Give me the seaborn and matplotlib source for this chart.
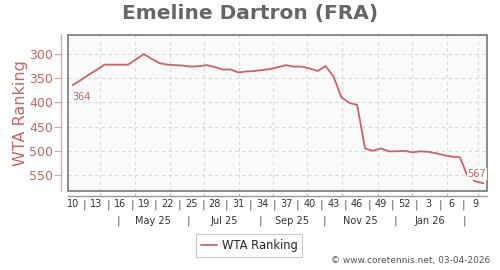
import matplotlib
matplotlib.use("Agg")
import matplotlib.pyplot as plt
import matplotlib.transforms as mtransforms
from matplotlib.patches import Rectangle
import seaborn as sns
import pandas as pd

title = "Emeline Dartron (FRA)"
series_name = "WTA Ranking"
ranks = [364, 354, 343, 333, 322, 322, 322, 322, 311, 300,
         310, 319, 322, 323, 324, 326, 325, 323, 327, 332,
         332, 338, 336, 335, 333, 331, 327, 323, 326, 326,
         330, 335, 325, 346, 389, 401, 405, 495, 500, 495,
         501, 501, 500, 503, 501, 502, 505, 509, 512, 513,
         553, 563, 567]
week_labels = ["10", "13", "16", "19", "22", "25", "28", "31", "34", "37",
               "40", "43", "46", "49", "52", "3", "6", "9"]
month_labels = ["May 25", "Jul 25", "Sep 25", "Nov 25", "Jan 26"]
yticks = [300, 350, 400, 450, 500, 550]
copyright_text = "\u00a9 www.coretennis.net, 03-04-2026"

df = pd.DataFrame({"week": list(range(len(ranks))), "rank": ranks})

sns.set_theme(style="white")
plt.rcParams["font.family"] = ["DejaVu Sans"]

RED = "#cc6464"
GREY_BOX = "#777777"

fig = plt.figure(figsize=(5, 2.7), dpi=100)
ax = fig.add_axes([0.1366, 0.2937, 0.838, 0.5767])
ax.set_facecolor("#fafafa")

sns.lineplot(data=df, x="week", y="rank", ax=ax, color=RED, linewidth=1.3,
             label=series_name, legend=False)

ax.set_xlim(-0.56, 52.48)
ax.set_ylim(582.4, 260.7)

# grid
ax.set_yticks(yticks)
ax.set_yticklabels([str(v) for v in yticks])
for v in yticks:
    ax.axhline(v, color="#d8d8d8", lw=0.8, ls=(0, (3, 3)), zorder=0)
vgrid = [3.5, 7.9, 12.3, 16.6, 21.0, 25.4, 29.7, 34.1, 38.6, 43.0, 47.4, 51.3]
for v in vgrid:
    ax.axvline(v, color="#d8d8d8", lw=0.8, ls=(0, (3, 3)), zorder=0)

# box around plot area
for s in ["top", "right"]:
    ax.spines[s].set_visible(False)
ax.add_patch(Rectangle((0, 0), 1, 1, transform=ax.transAxes, fill=False,
                       edgecolor=GREY_BOX, lw=1.2, zorder=5, clip_on=False))

# left spine offset, red
ax.spines["left"].set_position(("outward", 5))
ax.spines["left"].set_color("#e0a8a8")
ax.spines["left"].set_linewidth(1.0)
ax.tick_params(axis="y", colors=RED, labelsize=9, length=5, width=0.8,
               direction="out", left=True, pad=1)
ax.tick_params(axis="y", color="#e0a8a8")
ax.set_ylabel(series_name, fontsize=11.5, color=RED)
ax.yaxis.set_label_coords(-0.097, 0.5)

# bottom spine offset, grey with ticks at grid
ax.spines["bottom"].set_position(("outward", 4))
ax.spines["bottom"].set_color("#999999")
ax.spines["bottom"].set_linewidth(1.0)
ax.set_xticks(vgrid)
ax.set_xticklabels([])
ax.tick_params(axis="x", colors="#bbbbbb", length=2, width=0.8,
               direction="in", bottom=True)
ax.set_xlabel("")

trans = mtransforms.blended_transform_factory(ax.transData, ax.transAxes)
for i, lab in enumerate(week_labels):
    ax.text(i * 3, -0.088, lab, transform=trans, ha="center", va="center",
            fontsize=7, color="#333333")
    if i < len(week_labels) - 1:
        ax.text(i * 3 + 1.5, -0.088, "|", transform=trans, ha="center",
                va="center", fontsize=7.5, color="#555555")
month_seps = [5.8, 14.6, 23.7, 31.9, 40.8, 49.6]
for s in month_seps:
    ax.text(s, -0.195, "|", transform=trans, ha="center", va="center",
            fontsize=7.5, color="#555555")
for i, lab in enumerate(month_labels):
    cx = (month_seps[i] + month_seps[i + 1]) / 2
    ax.text(cx, -0.195, lab, transform=trans, ha="center", va="center",
            fontsize=7, color="#333333")

# value labels at first/last point
ax.annotate(str(ranks[0]), xy=(0, ranks[0]), xytext=(0, -5),
            textcoords="offset points", ha="left", va="top", fontsize=7,
            color=RED, zorder=6)
ax.annotate(str(ranks[-1]), xy=(len(ranks) - 1, ranks[-1]), xytext=(2, 3),
            textcoords="offset points", ha="right", va="bottom", fontsize=7,
            color=RED, zorder=6,
            bbox=dict(boxstyle="square,pad=0.1", fc="#fafafa", ec="none"))

fig.text(0.5, 0.95, title, ha="center", va="center", fontsize=14.5,
         fontweight="bold", color="#666666")

handles, labels = ax.get_legend_handles_labels()
leg = fig.legend(handles, labels, loc="center", bbox_to_anchor=(0.498, 0.091),
                 fontsize=8.3, frameon=True, fancybox=False, edgecolor="#bbbbbb",
                 handlelength=1.4, handletextpad=0.4, borderpad=0.4,
                 borderaxespad=0)
leg.get_frame().set_linewidth(0.8)

fig.text(0.98, 0.02, copyright_text, ha="right", va="bottom", fontsize=6.5,
         color="#555555")

fig.savefig("out.png", dpi=100)
